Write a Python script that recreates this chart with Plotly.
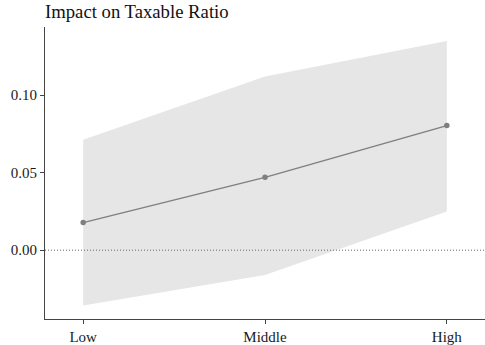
import plotly.graph_objects as go

# Income groups and estimated effect with confidence band
groups = ["Low", "Middle", "High"]
estimate = [0.0178, 0.047, 0.0804]
ci_lower = [-0.0357, -0.016, 0.025]
ci_upper = [0.0712, 0.112, 0.135]

y_ticks = [0.00, 0.05, 0.10]
y_tick_text = ["0.00", "0.05", "0.10"]

serif = "Liberation Serif"

fig = go.Figure()

# Confidence band
fig.add_trace(go.Scatter(
    x=groups, y=ci_lower, mode="lines",
    line=dict(width=0, color="rgba(0,0,0,0)"),
    showlegend=False, hoverinfo="skip",
))
fig.add_trace(go.Scatter(
    x=groups, y=ci_upper, mode="lines",
    line=dict(width=0, color="rgba(0,0,0,0)"),
    fill="tonexty", fillcolor="#e6e6e6",
    showlegend=False, hoverinfo="skip",
))

# Point estimates
fig.add_trace(go.Scatter(
    x=groups, y=estimate, mode="lines+markers",
    line=dict(color="#7f7f7f", width=1.4),
    marker=dict(color="#7f7f7f", size=5.5),
    showlegend=False,
))

# Reference line at zero
fig.add_shape(
    type="line", xref="paper", x0=0, x1=1, yref="y", y0=0, y1=0,
    line=dict(color="#666666", width=1, dash="1px,2px"),
)

fig.update_layout(
    width=485, height=345,
    margin=dict(l=45, r=0, t=27, b=24),
    paper_bgcolor="white", plot_bgcolor="white",
    font=dict(family=serif, size=15, color="#1a1a1a"),
    title=dict(
        text="Impact on Taxable Ratio",
        font=dict(family=serif, size=18.7, color="#111111"),
        x=0, xref="paper", xanchor="left",
        y=0.968, yref="container", yanchor="middle",
        pad=dict(l=0, t=0, b=0),
    ),
    xaxis=dict(
        type="category", range=[-0.21, 2.21],
        showline=True, linecolor="#444444", linewidth=1,
        ticks="outside", ticklen=4, tickcolor="#444444",
        tickfont=dict(family=serif, size=15, color="#1a1a1a"),
        showgrid=False, zeroline=False,
    ),
    yaxis=dict(
        range=[-0.0444, 0.144],
        tickvals=y_ticks, ticktext=y_tick_text,
        showline=True, linecolor="#444444", linewidth=1,
        ticks="outside", ticklen=4, tickcolor="#444444",
        tickfont=dict(family=serif, size=15, color="#1a1a1a"),
        showgrid=False, zeroline=False,
    ),
)

fig.write_html("out.html")
